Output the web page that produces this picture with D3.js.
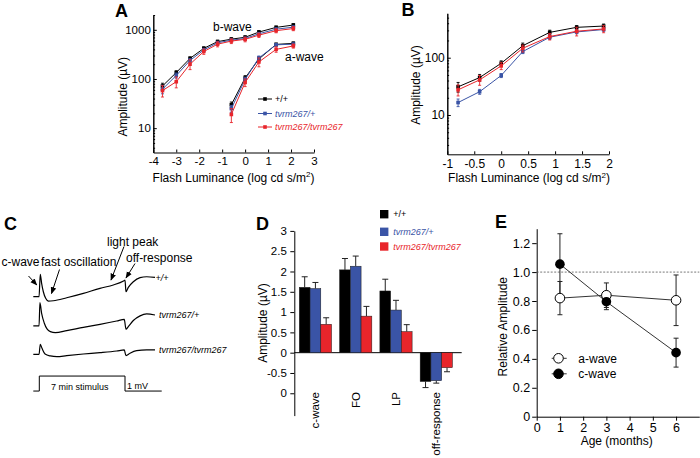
<!DOCTYPE html>
<html><head><meta charset="utf-8">
<script src="https://cdn.jsdelivr.net/npm/d3@7"></script>
<style>
body{margin:0;background:#fff}
svg{display:block;font-family:"Liberation Sans",Arial,sans-serif;background:#fff}
</style></head><body>
<svg id="c" width="700" height="458"></svg>
<script>
// ================= DATA =================
const genotypes = ["+/+", "tvrm267/+", "tvrm267/tvrm267"];

// Panel A: dark-adapted ERG (log cd s/m2 vs µV)
const lumA_b = [-3.6, -3, -2.4, -1.8, -1.2, -0.6, 0, 0.6, 1.35, 2.1];
const bwave_wt  = [72, 135, 262, 420, 575, 645, 705, 900, 1120, 1250];
const bwave_het = [62, 118, 238, 390, 545, 615, 665, 830, 1030, 1130];
const bwave_hom = [58, 88, 200, 362, 510, 590, 640, 780, 960, 1060];
const bwaveErr_wt  = [10, 12, 20, 30, 40, 45, 50, 60, 70, 80];
const bwaveErr_het = [12, 14, 20, 30, 40, 40, 45, 55, 65, 70];
const bwaveErr_hom = [15, 22, 45, 45, 60, 65, 70, 80, 90, 100];
const lumA_a = [-0.6, 0, 0.6, 1.35, 2.1];
const awave_wt  = [30, 105, 255, 505, 530];
const awave_het = [25, 98, 268, 495, 510];
const awave_hom = [19, 85, 222, 400, 470];
const awaveErr_wt  = [4, 12, 25, 30, 35];
const awaveErr_het = [4, 10, 25, 30, 30];
const awaveErr_hom = [6, 15, 45, 50, 45];
const tickA_x = [-4, -3, -2, -1, 0, 1, 2, 3];
const tickA_y = [10, 100, 1000];

// Panel B: light-adapted ERG
const lumB = [-0.8, -0.4, 0, 0.4, 0.9, 1.4, 1.9];
const cone_wt  = [31, 45, 80, 162, 277, 339, 357];
const cone_het = [16.5, 25.5, 49, 128, 228, 282, 310];
const cone_hom = [27.5, 41, 72, 146, 234, 290, 318];
const coneErr_wt  = [6, 6, 8, 18, 25, 25, 30];
const coneErr_het = [2.5, 2.5, 4, 10, 20, 20, 20];
const coneErr_hom = [6, 8, 10, 20, 30, 50, 45];
const tickB_x = [-1, -0.5, 0, 0.5, 1, 1.5, 2];
const tickB_y = [10, 100];

// Panel C: DC-ERG traces (time in min, response in mV)
const traceT_wt  = [-0.49, -0.02, 0.08, 0.19, 0.33, 0.52, 0.74, 1.15, 2.24, 3.6, 4.96, 6.05, 6.92, 7.0, 7.08, 7.27, 7.68, 8.23, 8.77, 9.45];
const traceV_wt  = [0, 0, 1.49, 0.89, 0.33, -0.11, -0.29, -0.27, -0.07, 0.22, 0.56, 0.78, 1.07, 1.11, 0.33, 0.62, 1.0, 1.27, 1.33, 1.29];
const traceT_het = [-0.49, -0.02, 0.05, 0.19, 0.41, 0.63, 0.9, 1.31, 2.24, 3.6, 4.96, 6.32, 6.94, 7.08, 7.27, 7.68, 8.23, 8.77, 9.45];
const traceV_het = [0, 0, 1.56, 0.84, 0.18, -0.2, -0.38, -0.44, -0.31, -0.09, 0.11, 0.33, 0.44, -0.22, -0.04, 0.36, 0.67, 0.8, 0.73];
const traceT_hom = [-0.49, -0.02, 0.08, 0.22, 0.47, 0.9, 1.44, 2.24, 3.6, 4.96, 6.32, 6.94, 7.08, 7.41, 7.95, 8.77, 9.45];
const traceV_hom = [0, 0, 0.67, 0.4, 0.02, -0.11, -0.16, -0.09, 0.02, 0.11, 0.22, 0.29, -0.09, 0.07, 0.24, 0.29, 0.29];
const stimT = [-0.49, 0, 0, 7, 7, 10];
const stimV = [0, 0, 1, 1, 0, 0];

// Panel D: DC-ERG component amplitudes
const components = ["c-wave", "FO", "LP", "off-response"];
const comp_wt  = [1.61, 2.04, 1.52, -0.71];
const comp_het = [1.58, 2.13, 1.05, -0.69];
const comp_hom = [0.70, 0.90, 0.52, -0.37];
const compErr_wt  = [0.26, 0.28, 0.29, 0.15];
const compErr_het = [0.15, 0.25, 0.24, 0.06];
const compErr_hom = [0.16, 0.24, 0.17, 0.10];
const tickD_values = [-1, -0.5, 0, 0.5, 1, 1.5, 2, 2.5, 3];
const tickD_labels = ["0", "-0.5", "0", "0.5", "1", "1.5", "2", "2.5", "3"];

// Panel E: relative amplitude vs age
const ages = [1, 3, 6];
const relA = [0.82, 0.84, 0.805];
const relAErr = [0.115, 0.085, 0.175];
const relC = [1.055, 0.795, 0.443];
const relCErr = [0.21, 0.055, 0.10];
const tickE_x = [0, 1, 2, 3, 4, 5, 6];
const tickE_y = [0, 0.2, 0.4, 0.6, 0.8, 1.0, 1.2];

// ================= DRAW =================
const colors = ["#000000", "#3a54a6", "#e8252b"];
const svg = d3.select("#c");
const FONT = '"Liberation Sans",Arial,sans-serif';

function styleAxis(g, size) {
  g.attr("font-size", size).attr("font-family", FONT);
  g.selectAll("path,line").attr("stroke", "#000").attr("stroke-width", 1);
  g.selectAll("text").attr("fill", "#000");
}
function txt(x, y, s, opt = {}) {
  const t = svg.append("text").attr("x", x).attr("y", y).text(s)
    .attr("font-size", opt.size || 12).attr("fill", opt.color || "#000");
  if (opt.anchor) t.attr("text-anchor", opt.anchor);
  if (opt.italic) t.attr("font-style", "italic");
  if (opt.bold) t.attr("font-weight", "bold");
  if (opt.rot) t.attr("transform", `rotate(${opt.rot},${x},${y})`);
  if (opt.dy) t.attr("dy", opt.dy);
  return t;
}
function minorLog(dom) {
  const out = [];
  for (let p = -1; p <= 4; p++) for (let m = 2; m <= 9; m++) {
    const v = m * Math.pow(10, p);
    if (v >= dom[0] && v <= dom[1]) out.push(v);
  }
  return out;
}
function series(g, xs, ys, xv, yv, ev, color) {
  // error bars
  xv.forEach((x, i) => {
    const X = xs(x), y1 = ys(yv[i] - ev[i]), y2 = ys(yv[i] + ev[i]);
    g.append("line").attr("x1", X).attr("x2", X).attr("y1", y1).attr("y2", y2)
      .attr("stroke", color).attr("stroke-width", 0.9);
    [y1, y2].forEach(yy => g.append("line").attr("x1", X - 1.5).attr("x2", X + 1.5)
      .attr("y1", yy).attr("y2", yy).attr("stroke", color).attr("stroke-width", 0.9));
  });
  const pts = xv.map((x, i) => [x, yv[i]]);
  g.append("path").attr("d", d3.line().x(d => xs(d[0])).y(d => ys(d[1]))(pts))
    .attr("fill", "none").attr("stroke", color).attr("stroke-width", 1);
  g.selectAll(null).data(pts).enter().append("rect")
    .attr("x", d => xs(d[0]) - 1.8).attr("y", d => ys(d[1]) - 1.8)
    .attr("width", 3.6).attr("height", 3.6).attr("fill", color);
}
function logPanel(xs, ys, xt, yt, tickSize, xPad, yPad) {
  const gx = svg.append("g").attr("transform", `translate(0,${ys.range()[0]})`)
    .call(d3.axisBottom(xs).tickValues(xt).tickSize(-3).tickSizeOuter(0).tickPadding(xPad).tickFormat(d => String(d)));
  styleAxis(gx, tickSize);
  const gy = svg.append("g").attr("transform", `translate(${xs.range()[0]},0)`)
    .call(d3.axisLeft(ys).tickValues(yt).tickSize(-3.5).tickSizeOuter(0).tickPadding(yPad).tickFormat(d => String(d)));
  styleAxis(gy, tickSize);
  const gm = svg.append("g").attr("transform", `translate(${xs.range()[0]},0)`)
    .call(d3.axisLeft(ys).tickValues(minorLog(ys.domain())).tickSize(-1.8).tickSizeOuter(0).tickFormat(""));
  styleAxis(gm, tickSize);
}

// ---------- Panel A ----------
const xA = d3.scaleLinear().domain([-4, 3]).range([153.3, 314]);
const yA = d3.scaleLog().domain([3.2, 2000]).range([152.5, 15]);
logPanel(xA, yA, tickA_x, tickA_y, 11.5, 4, 2.5);
const gA = svg.append("g");
[[bwave_wt, bwaveErr_wt], [bwave_het, bwaveErr_het], [bwave_hom, bwaveErr_hom]].forEach((s, i) =>
  series(gA, xA, yA, lumA_b, s[0], s[1], colors[i]));
[[awave_wt, awaveErr_wt], [awave_het, awaveErr_het], [awave_hom, awaveErr_hom]].forEach((s, i) =>
  series(gA, xA, yA, lumA_a, s[0], s[1], colors[i]));
txt(115, 16.5, "A", { size: 18, bold: true });
txt(123, 96.7, "Amplitude (µV)", { rot: -90, anchor: "middle", dy: "0.35em" });
txt(233.5, 181.5, "Flash Luminance (log cd s/m", { anchor: "middle" })
  .call(t => { t.append("tspan").text("2").attr("font-size", 8).attr("dy", -4.5); t.append("tspan").text(")").attr("dy", 4.5); });
txt(213, 31, "b-wave", { size: 12 });
txt(285, 61, "a-wave", { size: 12 });
// legend A
genotypes.forEach((gname, i) => {
  const yy = [99, 113.5, 127][i];
  svg.append("line").attr("x1", 258).attr("x2", 272).attr("y1", yy).attr("y2", yy).attr("stroke", colors[i]).attr("stroke-width", 1);
  svg.append("rect").attr("x", 263.2).attr("y", yy - 1.8).attr("width", 3.6).attr("height", 3.6).attr("fill", colors[i]);
  txt(275, yy + 3.2, gname, { size: 9, color: colors[i], italic: i > 0 });
});

// ---------- Panel B ----------
const xB = d3.scaleLinear().domain([-1, 2]).range([447.3, 609]);
const yB = d3.scaleLog().domain([2.06, 596]).range([154.3, 13.3]);
logPanel(xB, yB, tickB_x, tickB_y, 12, 5, 2.5);
const gB = svg.append("g");
[[cone_wt, coneErr_wt], [cone_het, coneErr_het], [cone_hom, coneErr_hom]].forEach((s, i) =>
  series(gB, xB, yB, lumB, s[0], s[1], colors[i]));
txt(401.5, 15.5, "B", { size: 18, bold: true });
txt(416, 85, "Amplitude (µV)", { rot: -90, anchor: "middle", dy: "0.35em" });
txt(529, 182, "Flash Luminance (log cd s/m", { anchor: "middle" })
  .call(t => { t.append("tspan").text("2").attr("font-size", 8).attr("dy", -4.5); t.append("tspan").text(")").attr("dy", 4.5); });

// ---------- Panel C ----------
const tC = d3.scaleLinear().domain([0, 7]).range([39.3, 125]);
const vC = d3.scaleLinear().domain([0, 1]).range([296.7, 281.7]);
const offsetsC = [0, -1.95, -3.84];
const traces = [[traceT_wt, traceV_wt], [traceT_het, traceV_het], [traceT_hom, traceV_hom]];
traces.forEach((tr, i) => {
  const pts = tr[0].map((t, j) => [t, tr[1][j] + offsetsC[i]]);
  svg.append("path").attr("d", d3.line().x(d => tC(d[0])).y(d => vC(d[1])).curve(d3.curveMonotoneX)(pts))
    .attr("fill", "none").attr("stroke", "#000").attr("stroke-width", 1.2);
});
const stimPts = stimT.map((t, j) => [t, stimV[j] - 6.29]);
svg.append("path").attr("d", d3.line().x(d => tC(d[0])).y(d => vC(d[1]))(stimPts))
  .attr("fill", "none").attr("stroke", "#000").attr("stroke-width", 1);
txt(4, 230, "C", { size: 18, bold: true });
txt(155.5, 280.5, "+/+", { size: 9, italic: true });
txt(159, 318, "tvrm267/+", { size: 9, italic: true });
txt(159, 352.5, "tvrm267/tvrm267", { size: 9, italic: true });
txt(51, 390, "7 min stimulus", { size: 9 });
txt(127, 388.5, "1 mV", { size: 9 });
txt(1.5, 266, "c-wave", { size: 12 });
txt(41, 266, "fast oscillation", { size: 12 });
txt(107, 246, "light peak", { size: 12 });
txt(126, 261.5, "off-response", { size: 12 });
const defs = svg.append("defs");
defs.append("marker").attr("id", "ah").attr("viewBox", "0 0 10 10").attr("refX", 9).attr("refY", 5)
  .attr("markerWidth", 7).attr("markerHeight", 7).attr("orient", "auto")
  .append("path").attr("d", "M0,1L10,5L0,9Z").attr("fill", "#000");
[[28.5, 276, 36.8, 285], [59.5, 269.5, 51.5, 293.5], [124, 246.5, 111, 280], [135, 263.5, 126, 278]].forEach(a =>
  svg.append("line").attr("x1", a[0]).attr("y1", a[1]).attr("x2", a[2]).attr("y2", a[3])
    .attr("stroke", "#000").attr("stroke-width", 1).attr("marker-end", "url(#ah)"));

// ---------- Panel D ----------
const xD = d3.scaleBand().domain(components).range([299.3, 452.4]).paddingInner(0.2).paddingOuter(0);
const xDs = d3.scaleBand().domain(genotypes).range([0, xD.bandwidth()]);
const yD = d3.scaleLinear().domain([-1.55, 3]).range([415.6, 230.9]);
const gyD = svg.append("g").attr("transform", "translate(294.3,0)")
  .call(d3.axisLeft(yD).tickValues(tickD_values).tickFormat((d, i) => tickD_labels[i]).tickSize(4).tickSizeOuter(0).tickPadding(3.5));
styleAxis(gyD, 11.5);
svg.append("line").attr("x1", 294.3).attr("x2", 461.7).attr("y1", yD(0)).attr("y2", yD(0)).attr("stroke", "#000").attr("stroke-width", 1);
const compVals = [comp_wt, comp_het, comp_hom];
const compErrs = [compErr_wt, compErr_het, compErr_hom];
genotypes.forEach((gname, gi) => {
  components.forEach((c, ci) => {
    const v = compVals[gi][ci], e = compErrs[gi][ci];
    const x0 = xD(c) + xDs(gname), w = xDs.bandwidth();
    const cx = x0 + w / 2, yEnd = yD(v + Math.sign(v) * e);
    svg.append("line").attr("x1", cx).attr("x2", cx).attr("y1", yD(v)).attr("y2", yEnd).attr("stroke", "#222").attr("stroke-width", 1);
    svg.append("line").attr("x1", cx - 3).attr("x2", cx + 3).attr("y1", yEnd).attr("y2", yEnd).attr("stroke", "#222").attr("stroke-width", 1);
    svg.append("rect").attr("x", x0).attr("width", w)
      .attr("y", yD(Math.max(v, 0))).attr("height", Math.abs(yD(v) - yD(0)))
      .attr("fill", colors[gi]).attr("stroke", "#1a1a1a").attr("stroke-width", 0.5);
  });
});
components.forEach(c => {
  const x = xD(c) + xD.bandwidth() / 2;
  txt(x, 392, c, { size: 11.5, rot: -90, anchor: "end", dy: "0.35em" });
});
txt(256, 229.5, "D", { size: 18, bold: true });
txt(263.3, 323, "Amplitude (µV)", { rot: -90, anchor: "middle", dy: "0.35em" });
genotypes.forEach((gname, i) => {
  const yy = [214.2, 231.8, 246.5][i];
  svg.append("rect").attr("x", 380).attr("y", yy - 4.2).attr("width", 8.4).attr("height", 8.4).attr("fill", colors[i]);
  txt(393.3, yy + 3.2, gname, { size: 9, color: colors[i], italic: i > 0 });
});

// ---------- Panel E ----------
const xE = d3.scaleLinear().domain([0, 7]).range([536.7, 699.3]);
const yE = d3.scaleLinear().domain([0, 1.3]).range([416.7, 228.7]);
const gxE = svg.append("g").attr("transform", `translate(0,${yE(0)})`)
  .call(d3.axisBottom(xE).tickValues(tickE_x).tickSize(4).tickSizeOuter(0).tickPadding(2).tickFormat(d => String(d)));
styleAxis(gxE, 12.5);
const gyE = svg.append("g").attr("transform", `translate(${xE(0)},0)`)
  .call(d3.axisLeft(yE).tickValues(tickE_y).tickSize(4.5).tickSizeOuter(0).tickPadding(2).tickFormat(d => d === 0 ? "0" : d.toFixed(1)));
styleAxis(gyE, 12.5);
svg.append("line").attr("x1", xE(0)).attr("x2", xE(7)).attr("y1", yE(1)).attr("y2", yE(1))
  .attr("stroke", "#555").attr("stroke-width", 0.8).attr("stroke-dasharray", "2,1.5");
function eSeries(vals, errs, fill) {
  const pts = ages.map((a, i) => [a, vals[i]]);
  svg.append("path").attr("d", d3.line().x(d => xE(d[0])).y(d => yE(d[1]))(pts))
    .attr("fill", "none").attr("stroke", "#333").attr("stroke-width", 1);
  ages.forEach((a, i) => {
    const X = xE(a), y1 = yE(vals[i] - errs[i]), y2 = yE(vals[i] + errs[i]);
    svg.append("line").attr("x1", X).attr("x2", X).attr("y1", y1).attr("y2", y2).attr("stroke", "#222").attr("stroke-width", 1);
    [y1, y2].forEach(yy => svg.append("line").attr("x1", X - 2.5).attr("x2", X + 2.5).attr("y1", yy).attr("y2", yy).attr("stroke", "#222").attr("stroke-width", 1));
  });
  return pts;
}
const ptsA = eSeries(relA, relAErr, "#fff");
const ptsC = eSeries(relC, relCErr, "#000");
svg.selectAll(null).data(ptsA).enter().append("circle").attr("cx", d => xE(d[0])).attr("cy", d => yE(d[1])).attr("r", 4.8)
  .attr("fill", "#fff").attr("stroke", "#000").attr("stroke-width", 1);
svg.selectAll(null).data(ptsC).enter().append("circle").attr("cx", d => xE(d[0])).attr("cy", d => yE(d[1])).attr("r", 4.8)
  .attr("fill", "#000");
txt(495, 228.3, "E", { size: 18, bold: true });
txt(503.3, 326.7, "Relative Amplitude", { rot: -90, anchor: "middle", dy: "0.35em" });
txt(616.7, 445, "Age (months)", { anchor: "middle" });
[["a-wave", "#fff"], ["c-wave", "#000"]].forEach((l, i) => {
  const yy = [358.3, 373.8][i];
  svg.append("line").attr("x1", 551.7).attr("x2", 566.7).attr("y1", yy).attr("y2", yy).attr("stroke", "#333");
  svg.append("circle").attr("cx", 558.5).attr("cy", yy).attr("r", 4.8).attr("fill", l[1]).attr("stroke", "#000");
  txt(578.3, yy + 4.3, l[0], { size: 12 });
});
</script>
</body></html>
